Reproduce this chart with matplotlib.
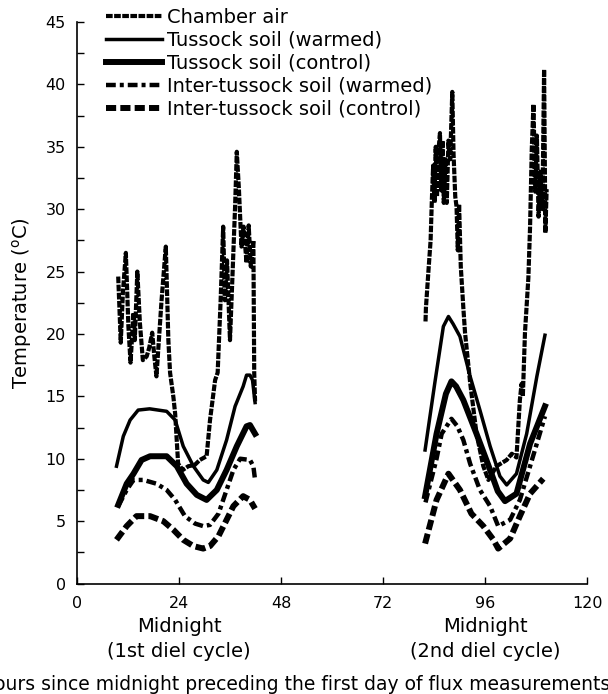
import numpy as np
import matplotlib
matplotlib.use("Agg")
import matplotlib.pyplot as plt
from matplotlib.ticker import MultipleLocator

plt.rcParams["font.family"] = ["DejaVu Sans"]
plt.rcParams["mathtext.fontset"] = "dejavusans"

# ---- data ----
air_h1 = [9.7, 10.0, 10.3, 10.8, 11.5, 12.1, 12.6, 13.3, 13.6, 14.2, 14.8, 15.5, 16.4, 17.0,
          17.7, 18.2, 18.7, 19.9, 20.9, 21.5, 21.9, 22.7, 23.1, 23.8, 24.9, 26.2, 27.7, 28.9,
          30.5, 31.3, 32.5, 33.1, 33.8, 34.4, 34.8, 35.3, 36.0, 36.6, 37.2, 37.6, 38.1, 38.7,
          39.2, 39.9, 40.4, 40.9, 41.5, 41.7, 41.9]
air_t1 = [24.6, 22.0, 19.3, 23.3, 26.5, 20.6, 17.7, 21.7, 19.5, 25.0, 20.9, 17.9, 18.2, 18.9,
          20.1, 18.2, 16.6, 22.7, 27.0, 19.5, 16.9, 14.9, 13.6, 9.6, 9.1, 9.4, 9.5, 9.9,
          10.2, 13.1, 16.3, 16.9, 22.7, 28.6, 22.7, 25.9, 19.5, 24.8, 30.2, 34.6, 31.6, 27.0,
          28.6, 25.7, 28.7, 25.4, 27.5, 16.9, 14.6]
air_h2 = [82.0, 82.1, 82.7, 83.2, 83.5, 83.8, 84.1, 84.4, 84.7, 85.0, 85.4, 85.7, 86.0, 86.3,
          86.7, 87.0, 87.4, 87.8, 88.3, 88.6, 89.0, 89.3, 89.6, 89.9, 90.3, 90.9, 91.3, 92.5,
          94.0, 95.6, 96.8, 98.7, 101.1, 102.3, 103.4, 104.2, 104.6, 104.9, 105.4, 105.8,
          106.2, 106.6, 107.0, 107.4, 107.8, 108.2, 108.6, 109.0, 109.5, 109.9, 110.2, 110.5]
air_t2 = [21.0, 22.1, 25.1, 27.5, 30.8, 33.5, 30.5, 35.0, 31.0, 34.5, 36.1, 31.5, 35.5, 30.5,
          34.0, 30.5, 35.5, 34.0, 39.4, 34.4, 31.0, 30.2, 26.7, 30.4, 25.4, 22.1, 20.1, 16.1,
          12.0, 9.4, 8.3, 9.4, 9.9, 10.4, 10.1, 14.7, 16.0, 15.0, 20.1, 22.3,
          24.5, 28.6, 34.8, 38.4, 31.4, 35.9, 29.4, 33.0, 30.0, 41.2, 28.1, 31.6]

tw_h1 = [9.3, 10.9, 12.5, 14.4, 17.1, 21.1, 23.1, 25.0, 27.4, 29.7, 30.9, 32.9, 35.2, 37.2,
         39.1, 39.9, 40.7, 41.3, 41.9]
tw_t1 = [9.4, 11.8, 13.1, 13.9, 14.0, 13.8, 13.1, 11.0, 9.4, 8.3, 8.1, 9.1, 11.5, 14.2,
         15.8, 16.7, 16.7, 16.3, 14.5]
tw_h2 = [81.9, 84.2, 86.2, 87.4, 88.5, 90.1, 92.5, 94.8, 97.2, 99.5, 101.1, 103.4, 105.8,
         108.2, 110.1]
tw_t2 = [10.7, 16.1, 20.6, 21.4, 20.8, 19.8, 16.6, 13.9, 11.0, 8.6, 7.9, 8.8, 12.0, 16.6, 19.9]

tc_h1 = [9.7, 11.7, 13.3, 15.2, 17.2, 21.1, 23.5, 25.8, 28.2, 30.5, 32.9, 35.2, 37.6, 39.9,
         40.7, 41.9]
tc_t1 = [6.3, 8.0, 8.8, 9.9, 10.2, 10.2, 9.4, 8.0, 7.1, 6.7, 7.5, 9.1, 11.0, 12.6, 12.7, 12.0]
tc_h2 = [81.9, 84.6, 86.8, 88.1, 89.2, 90.9, 94.0, 97.2, 99.0, 100.7, 103.4, 106.6, 110.1]
tc_t2 = [7.0, 12.0, 15.2, 16.2, 15.8, 14.7, 12.0, 9.1, 7.4, 6.6, 7.2, 11.2, 14.2]

iw_h1 = [9.7, 11.7, 13.3, 15.6, 18.7, 21.1, 23.1, 25.4, 27.8, 29.7, 31.3, 33.3, 35.2, 36.8,
         38.4, 40.7, 41.5, 41.9]
iw_t1 = [6.2, 7.5, 8.3, 8.3, 8.0, 7.5, 6.7, 5.4, 4.8, 4.6, 4.7, 5.6, 7.5, 9.1,
         10.0, 9.9, 9.4, 8.3]
iw_h2 = [82.0, 84.6, 85.8, 88.1, 89.5, 90.9, 92.5, 94.8, 97.2, 99.1, 101.9, 104.2, 106.6, 110.1]
iw_t2 = [6.5, 10.0, 12.0, 13.2, 12.6, 11.5, 9.6, 7.5, 6.2, 4.6, 5.1, 6.7, 9.4, 13.4]

ic_h1 = [9.3, 11.7, 14.0, 17.2, 20.3, 22.7, 25.0, 27.4, 29.7, 31.3, 33.3, 35.2, 36.8, 39.1,
         40.7, 41.9]
ic_t1 = [3.5, 4.6, 5.4, 5.4, 5.0, 4.3, 3.5, 3.0, 2.8, 3.0, 3.8, 5.1, 6.2, 7.0, 6.7, 6.0]
ic_h2 = [81.9, 84.6, 87.4, 90.1, 92.8, 95.6, 98.0, 99.1, 101.9, 104.2, 106.6, 109.7]
ic_t2 = [3.2, 6.7, 8.8, 7.5, 5.6, 4.6, 3.5, 2.8, 3.6, 5.4, 7.2, 8.4]

labels = ["Chamber air", "Tussock soil (warmed)", "Tussock soil (control)",
          "Inter-tussock soil (warmed)", "Inter-tussock soil (control)"]
xticks = [0, 24, 48, 72, 96, 120]

fig = plt.figure(figsize=(6.08, 6.94), dpi=100)
ax = fig.add_axes([0.1266, 0.1592, 0.8389, 0.8091])

series = [
    (air_h1, air_t1, air_h2, air_t2, dict(lw=3.0, ls=(0, (1.6, 0.35)))),
    (tw_h1, tw_t1, tw_h2, tw_t2, dict(lw=2.5, ls="-")),
    (tc_h1, tc_t1, tc_h2, tc_t2, dict(lw=4.3, ls="-")),
    (iw_h1, iw_t1, iw_h2, iw_t2, dict(lw=3.2, ls=(0, (2.2, 0.9, 0.9, 0.9)))),
    (ic_h1, ic_t1, ic_h2, ic_t2, dict(lw=4.3, ls=(0, (1.7, 0.7)))),
]
for (h1, t1, h2, t2, st), lab in zip(series, labels):
    ax.plot(h1, t1, color="black", label=lab, **st)
    ax.plot(h2, t2, color="black", **st)

ax.set_xlim(0, 120)
ax.set_ylim(0, 45)
ax.set_xticks(xticks)
ax.yaxis.set_major_locator(MultipleLocator(5))
ax.yaxis.set_minor_locator(MultipleLocator(2.5))
ax.spines["top"].set_visible(False)
ax.spines["right"].set_visible(False)
ax.spines["left"].set_linewidth(1.2)
ax.spines["bottom"].set_linewidth(1.2)
ax.tick_params(axis="both", which="both", direction="in", length=5, width=1,
               labelsize=11.5, colors="black")
ax.tick_params(axis="y", pad=8)
ax.tick_params(axis="x", pad=9)
ax.set_ylabel(r"Temperature ($^{\rm o}$C)", fontsize=14, labelpad=8)

for x0, txt in [(24, "Midnight\n(1st diel cycle)"), (96, "Midnight\n(2nd diel cycle)")]:
    ax.annotate(txt, xy=(x0, 0), xycoords="data", xytext=(0, -24),
                textcoords="offset points", ha="center", va="top",
                fontsize=14, linespacing=1.4)

fig.text(295 / 608, 1 - 684 / 694, "Hours since midnight preceding the first day of flux measurements",
         ha="center", va="center", fontsize=13.5)

ax.legend(loc="upper left", bbox_to_anchor=(106 / 608, 1 - 8 / 694),
          bbox_transform=fig.transFigure, frameon=False, fontsize=14,
          handlelength=2.9, handletextpad=0.25, labelspacing=0.2,
          borderpad=0, borderaxespad=0)

fig.savefig("out.png", dpi=100)
